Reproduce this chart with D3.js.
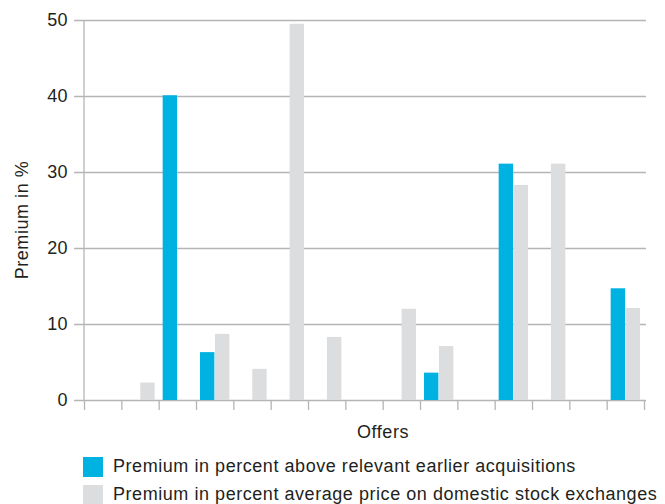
<!DOCTYPE html>
<html>
<head>
<meta charset="utf-8">
<script src="https://cdn.jsdelivr.net/npm/d3@7"></script>
<style>
  body { margin: 0; background: #fff; }
  svg { font-family: "Liberation Sans", Arial, Helvetica, sans-serif; }
  .axis text { fill: #231f20; font-size: 18px; letter-spacing: 0.4px; }
  .text-label { fill: #231f20; font-size: 18px; letter-spacing: 0.55px; }
</style>
</head>
<body>
<div id="chart"></div>
<script>
// offers 1..15, null = no bar
const offers = d3.range(1, 16).map(String);
const earlierAcq = [null, null, 40.1, 6.3, null, null, null, null, null, 3.6, null, 31.1, null, null, 14.7];
const stockAvg   = [null, 2.3, null, 8.7, 4.1, 49.5, 8.3, null, 12.0, 7.1, null, 28.3, 31.1, null, 12.1];
const yTicks = [0, 10, 20, 30, 40, 50];
const seriesKeys = ['acq', 'stock'];
const seriesLabels = [
    'Premium in percent above relevant earlier acquisitions',
    'Premium in percent average price on domestic stock exchanges'
];
const colors = ['#00b2e1', '#dcdddf'];

const config = {
    containerWidth: 665,
    containerHeight: 504,
    margin: {top: 20, right: 21, bottom: 104, left: 84}
};
const width = config.containerWidth - config.margin.left - config.margin.right;   // 560
const height = config.containerHeight - config.margin.top - config.margin.bottom; // 380

const svg = d3.select('#chart').append('svg')
    .attr('width', config.containerWidth)
    .attr('height', config.containerHeight);

const chart = svg.append('g')
    .attr('transform', `translate(${config.margin.left},${config.margin.top})`);

// scales
const xScale = d3.scaleBand().domain(offers).range([0, width]);
const xSub = d3.scaleBand().domain(seriesKeys)
    .range([4, xScale.bandwidth() - 4]).paddingInner(0.035);
const yScale = d3.scaleLinear().domain([0, 50]).range([height, 0]);
const tickScale = d3.scaleLinear().domain([0, offers.length]).range([0, width]);

// gridlines + y labels
const yAxis = d3.axisLeft(yScale)
    .tickValues(yTicks)
    .tickSize(-(width + 12))
    .tickPadding(6);

const yAxisG = chart.append('g')
    .attr('class', 'axis y-axis')
    .attr('transform', 'translate(-10,0)')
    .call(yAxis)
    .call(g => g.select('.domain').remove());
yAxisG.selectAll('.tick line')
    .attr('stroke', '#b5b5b6')
    .attr('stroke-width', 1.3);

// vertical axis line
chart.append('line')
    .attr('x1', 0).attr('x2', 0)
    .attr('y1', yScale(50)).attr('y2', height)
    .attr('stroke', '#b5b5b6')
    .attr('stroke-width', 1.3);

// x axis ticks at band edges
const xAxis = d3.axisBottom(tickScale)
    .tickValues(d3.range(offers.length + 1))
    .tickSize(10)
    .tickFormat('');
chart.append('g')
    .attr('class', 'axis x-axis')
    .attr('transform', `translate(0,${height})`)
    .call(xAxis)
    .call(g => g.select('.domain').remove())
    .selectAll('.tick line')
    .attr('stroke', '#b5b5b6')
    .attr('stroke-width', 1.3);

// bars
const rows = offers.map((o, i) => ({offer: o, acq: earlierAcq[i], stock: stockAvg[i]}));
const groups = chart.selectAll('.group')
    .data(rows)
    .join('g')
    .attr('class', 'group')
    .attr('transform', d => `translate(${xScale(d.offer)},0)`);

groups.selectAll('rect')
    .data(d => seriesKeys.map((k, j) => ({key: k, value: d[k], color: colors[j]})).filter(e => e.value != null))
    .join('rect')
    .attr('x', e => xSub(e.key))
    .attr('width', xSub.bandwidth())
    .attr('y', e => yScale(e.value))
    .attr('height', e => height - yScale(e.value))
    .attr('fill', e => e.color);

// axis titles
svg.append('text')
    .attr('class', 'text-label')
    .attr('transform', `translate(28,220) rotate(-90)`)
    .attr('text-anchor', 'middle')
    .text('Premium in %');

svg.append('text')
    .attr('class', 'text-label')
    .attr('x', 383)
    .attr('y', 438)
    .attr('text-anchor', 'middle')
    .text('Offers');

// legend
const legend = svg.append('g').attr('transform', 'translate(83,457)');
const items = legend.selectAll('.legend-item')
    .data(seriesLabels)
    .join('g')
    .attr('class', 'legend-item')
    .attr('transform', (d, i) => `translate(0,${i * 28})`);
items.append('rect')
    .attr('width', 20).attr('height', 20)
    .attr('fill', (d, i) => colors[i]);
items.append('text')
    .attr('class', 'text-label')
    .attr('x', 30)
    .attr('y', 15)
    .text(d => d);
</script>
</body>
</html>
